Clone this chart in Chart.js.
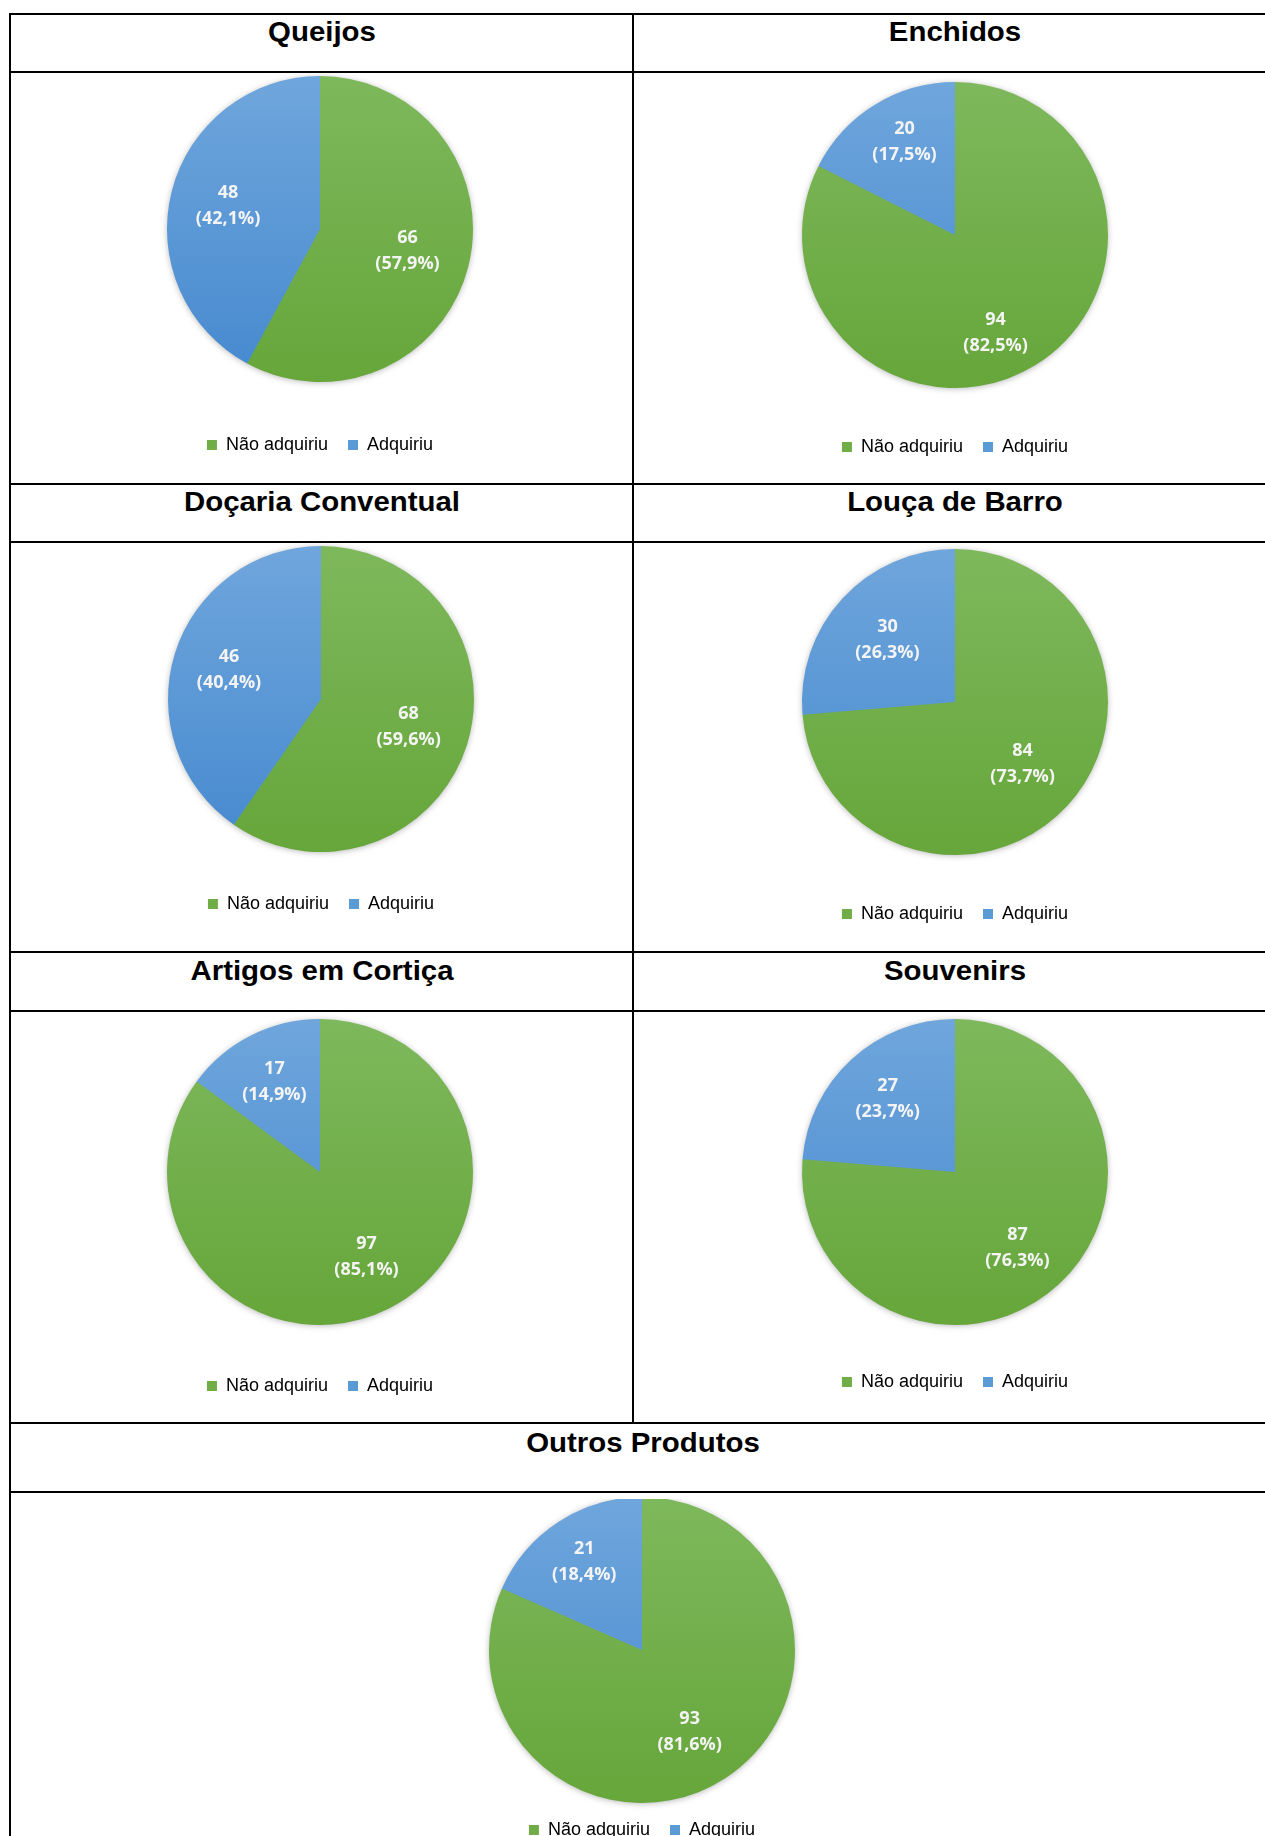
<!DOCTYPE html>
<html lang="pt">
<head>
<meta charset="utf-8">
<title>Produtos adquiridos</title>
<script src="https://cdn.jsdelivr.net/npm/chart.js@4.4.0/dist/chart.umd.min.js"></script>
<style>
    html, body {
        margin: 0;
        padding: 0;
        background: #fff;
        width: 1265px;
        height: 1836px;
        overflow: hidden;
    }
    #sheet {
        position: relative;
        width: 1265px;
        height: 1836px;
    }
    .rule {
        position: absolute;
        background: #000;
    }
    .title {
        position: absolute;
        font: bold 28px "Liberation Sans", Arial, sans-serif;
        line-height: 28px;
        text-align: center;
        color: #000;
        white-space: nowrap;
        transform: scaleX(1.05);
    }
    .chart {
        position: absolute;
    }
</style>
</head>
<body>
<div id="sheet"></div>
<script>
// Survey answers per product type (114 respondents each)
const products = ['Queijos', 'Enchidos', 'Doçaria Conventual', 'Louça de Barro', 'Artigos em Cortiça', 'Souvenirs', 'Outros Produtos'];
const answers = ['Não adquiriu', 'Adquiriu'];
const notPurchased = [66, 94, 68, 84, 97, 87, 93];
const purchased = [48, 20, 46, 30, 17, 27, 21];

const sliceColors = ['#70ad47', '#5b9bd5'];
const sliceGradients = [['#7eb85c', '#66a63a'], ['#6fa6dc', '#4689cf']];

// Table cells: pie centre, legend line, title baseline and label placement for each product
const cells = [
    { cx: 320, cy: 229, legendY: 445, titleX: 322, titleY: 42, factors: [0.59, 0.62], shift: [0, 0] },
    { cx: 955, cy: 235, legendY: 447, titleX: 955, titleY: 42, factors: [0.69, 0.69], shift: [9, 3] },
    { cx: 321, cy: 699, legendY: 904, titleX: 322, titleY: 512, factors: [0.60, 0.63], shift: [0, 0] },
    { cx: 955, cy: 702, legendY: 914, titleX: 955, titleY: 512, factors: [0.60, 0.60], shift: [0, 0] },
    { cx: 320, cy: 1172, legendY: 1386, titleX: 322, titleY: 981, factors: [0.63, 0.66], shift: [-2, 0] },
    { cx: 955, cy: 1172, legendY: 1382, titleX: 955, titleY: 981, factors: [0.64, 0.65], shift: [3, 0] },
    { cx: 642, cy: 1650, legendY: 1830, titleX: 643, titleY: 1453, factors: [0.62, 0.69], shift: [3, 0] }
];

const sheet = document.getElementById('sheet');

// Table grid lines
const hRules = [14, 72, 484, 542, 952, 1011, 1423, 1492];
hRules.forEach(y => {
    const d = document.createElement('div');
    d.className = 'rule';
    d.style.left = '9px';
    d.style.top = (y - 1) + 'px';
    d.style.width = '1270px';
    d.style.height = '2px';
    sheet.appendChild(d);
});
[[10, 13, 1836], [633, 13, 1424], [1276, 13, 1836]].forEach(v => {
    const d = document.createElement('div');
    d.className = 'rule';
    d.style.left = (v[0] - 1) + 'px';
    d.style.top = v[1] + 'px';
    d.style.width = '2px';
    d.style.height = (v[2] - v[1]) + 'px';
    sheet.appendChild(d);
});

const pieRadius = 153;
const legendPad = 20;
const legendFont = 18;

// Soft drop shadow under the whole pie
const pieShadow = {
    id: 'pieShadow',
    beforeDatasetsDraw(chart) {
        const arc = chart.getDatasetMeta(0).data[0];
        if (!arc) return;
        const ctx = chart.ctx;
        ctx.save();
        ctx.shadowColor = 'rgba(0, 0, 0, 0.35)';
        ctx.shadowBlur = 7;
        ctx.shadowOffsetY = 1;
        ctx.fillStyle = '#6dab4a';
        ctx.beginPath();
        ctx.arc(arc.x, arc.y, arc.outerRadius - 1, 0, Math.PI * 2);
        ctx.fill();
        ctx.restore();
    }
};

// Value and percentage written inside each slice
const sliceLabels = {
    id: 'sliceLabels',
    afterDatasetsDraw(chart, args, opts) {
        const ctx = chart.ctx;
        const values = chart.data.datasets[0].data;
        const total = values.reduce((a, b) => a + b, 0);
        chart.getDatasetMeta(0).data.forEach((arc, i) => {
            const mid = (arc.startAngle + arc.endAngle) / 2 + opts.shift[i] * Math.PI / 180;
            const r = arc.outerRadius * opts.factors[i];
            const x = arc.x + Math.cos(mid) * r;
            const y = arc.y + Math.sin(mid) * r;
            const pct = (values[i] / total * 100).toFixed(1).replace('.', ',');
            ctx.save();
            ctx.font = '700 18px "Open Sans", sans-serif';
            ctx.fillStyle = '#f4f4f4';
            ctx.textAlign = 'center';
            ctx.textBaseline = 'middle';
            ctx.fillText(String(values[i]), x, y - 13);
            ctx.fillText('(' + pct + '%)', x, y + 13);
            ctx.restore();
        });
    }
};

// Vertical gradient across the pie, lighter at the top
function sliceFill(context) {
    const stops = sliceGradients[context.dataIndex];
    const chart = context.chart;
    const area = chart.chartArea;
    if (!area) return sliceColors[context.dataIndex];
    const cy = (area.top + area.bottom) / 2;
    const g = chart.ctx.createLinearGradient(0, cy - pieRadius, 0, cy + pieRadius);
    g.addColorStop(0, stops[0]);
    g.addColorStop(1, stops[1]);
    return g;
}

products.forEach((name, i) => {
    const cell = cells[i];

    const title = document.createElement('div');
    title.className = 'title';
    title.textContent = name;
    title.style.left = (cell.titleX - 300) + 'px';
    title.style.width = '600px';
    title.style.top = (cell.titleY - 24) + 'px';
    sheet.appendChild(title);

    // Canvas sized so the chart area is centred on the pie and the legend lands below it
    const width = 600;
    const legendTop = cell.legendY - legendPad - legendFont / 2;
    const top = 2 * cell.cy - legendTop;
    const height = cell.legendY + legendFont / 2 + 10 - top;

    const canvas = document.createElement('canvas');
    canvas.className = 'chart';
    canvas.width = width;
    canvas.height = height;
    canvas.style.left = (cell.cx - width / 2) + 'px';
    canvas.style.top = top + 'px';
    sheet.appendChild(canvas);

    new Chart(canvas.getContext('2d'), {
        type: 'pie',
        data: {
            labels: answers,
            datasets: [{
                data: [notPurchased[i], purchased[i]],
                backgroundColor: sliceFill,
                borderWidth: 0
            }]
        },
        options: {
            responsive: false,
            animation: false,
            radius: pieRadius,
            layout: { padding: 0 },
            plugins: {
                tooltip: { enabled: false },
                legend: {
                    position: 'bottom',
                    labels: {
                        boxWidth: 10,
                        boxHeight: 10,
                        padding: legendPad,
                        color: '#595959',
                        font: { family: '"Liberation Sans", Arial, sans-serif', size: legendFont },
                        generateLabels(chart) {
                            return answers.map((text, k) => ({
                                text: text,
                                fillStyle: sliceColors[k],
                                strokeStyle: sliceColors[k],
                                lineWidth: 0,
                                hidden: false,
                                index: k
                            }));
                        }
                    }
                },
                sliceLabels: { factors: cell.factors, shift: cell.shift }
            }
        },
        plugins: [pieShadow, sliceLabels]
    });
});
</script>
</body>
</html>
